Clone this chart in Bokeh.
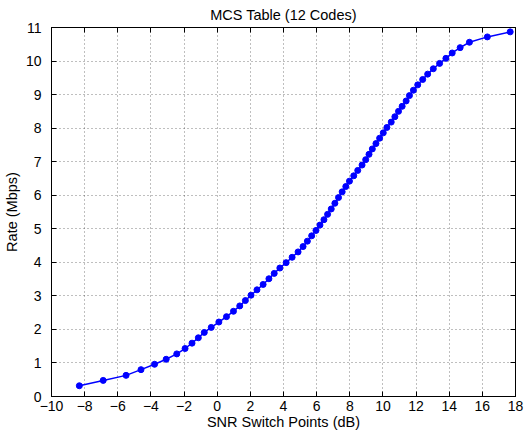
from bokeh.plotting import figure
from bokeh.models import Range1d, FixedTicker, LinearAxis, ColumnDataSource
from bokeh.embed import file_html
from bokeh.resources import INLINE

# SNR switch point (dB) for each rate step
snr_db = [
    -8.32, -6.88, -5.50, -4.60, -3.78, -3.08, -2.44, -1.94, -1.52, -1.14,
    -0.78, -0.36, 0.10, 0.56, 0.98, 1.36, 1.70, 2.04, 2.40, 2.77,
    3.12, 3.44, 3.78, 4.16, 4.52, 4.88, 5.18, 5.44, 5.70, 5.96,
    6.20, 6.44, 6.66, 6.88, 7.10, 7.32, 7.54, 7.76, 7.98, 8.24,
    8.48, 8.74, 8.96, 9.16, 9.36, 9.58, 9.80, 10.02, 10.24, 10.50,
    10.72, 10.94, 11.16, 11.40, 11.60, 11.84, 12.10, 12.40, 12.70, 13.04,
    13.42, 13.80, 14.18, 14.66, 15.22, 16.30, 17.68,
]
# Rate (Mbps) reached at each switch point
rate_mbps = [
    0.32, 0.48, 0.63, 0.80, 0.96, 1.11, 1.27, 1.43, 1.59, 1.75,
    1.91, 2.06, 2.22, 2.38, 2.54, 2.70, 2.86, 3.02, 3.18, 3.34,
    3.51, 3.67, 3.83, 3.99, 4.15, 4.31, 4.47, 4.63, 4.79, 4.95,
    5.11, 5.27, 5.43, 5.59, 5.76, 5.93, 6.10, 6.26, 6.42, 6.58,
    6.74, 6.90, 7.06, 7.22, 7.38, 7.54, 7.70, 7.86, 8.02, 8.18,
    8.34, 8.50, 8.65, 8.81, 8.97, 9.13, 9.29, 9.45, 9.61, 9.77,
    9.93, 10.08, 10.24, 10.40, 10.56, 10.72, 10.87,
]

x_ticks = [-10, -8, -6, -4, -2, 0, 2, 4, 6, 8, 10, 12, 14, 16, 18]
y_ticks = [0, 1, 2, 3, 4, 5, 6, 7, 8, 9, 10, 11]
x_tick_labels = {t: str(t).replace("-", "\u2212") for t in x_ticks}

FONT = "Liberation Sans"

p = figure(
    width=524, height=434,
    output_backend="svg", toolbar_location=None,
    x_range=Range1d(-10, 18), y_range=Range1d(0, 11),
    min_border_left=49, min_border_right=9,
    min_border_top=27, min_border_bottom=38,
    title="MCS Table (12 Codes)",
)
p.background_fill_color = "white"
p.border_fill_color = "white"
p.outline_line_color = "black"
p.outline_line_width = 1

p.title.align = "center"
p.title.vertical_align = "top"
p.title.text_font = FONT
p.title.text_font_size = "14.5px"
p.title.text_font_style = "normal"
p.title.text_color = "black"
p.title.standoff = 6

bottom_axis = p.below[0]
left_axis = p.left[0]

# Tick-only axes on the top and right edges of the box
top_axis = LinearAxis()
right_axis = LinearAxis()
p.add_layout(top_axis, "above")
p.add_layout(right_axis, "right")

for ax in (bottom_axis, top_axis):
    ax.ticker = FixedTicker(ticks=x_ticks)
for ax in (left_axis, right_axis):
    ax.ticker = FixedTicker(ticks=y_ticks)

for ax in (bottom_axis, left_axis, top_axis, right_axis):
    ax.major_tick_in = 5
    ax.major_tick_out = 0
    ax.minor_tick_line_color = None
    ax.axis_line_color = "black"
    ax.major_tick_line_color = "black"
    ax.major_label_text_font = FONT
    ax.major_label_text_font_size = "14px"
    ax.major_label_text_color = "black"
    ax.axis_label_text_font = FONT
    ax.axis_label_text_font_size = "14.5px"
    ax.axis_label_text_font_style = "normal"
    ax.axis_label_text_color = "black"

top_axis.major_label_overrides = {t: "" for t in x_ticks}
right_axis.major_label_overrides = {t: "" for t in y_ticks}
top_axis.major_label_standoff = 0
right_axis.major_label_standoff = 0

bottom_axis.major_label_overrides = x_tick_labels
bottom_axis.major_label_standoff = 4
bottom_axis.axis_label = "SNR Switch Points (dB)"
bottom_axis.axis_label_standoff = 0
left_axis.major_label_standoff = 10
left_axis.axis_label = "Rate (Mbps)"
left_axis.axis_label_standoff = 3

for g in (p.xgrid[0], p.ygrid[0]):
    g.grid_line_color = "black"
    g.grid_line_alpha = 0.5
    g.grid_line_dash = "1 3"
    g.grid_line_width = 1
p.xgrid[0].ticker = FixedTicker(ticks=x_ticks)
p.ygrid[0].ticker = FixedTicker(ticks=y_ticks)

src = ColumnDataSource(data=dict(snr=snr_db, rate=rate_mbps))
p.line("snr", "rate", source=src, line_color="#0000ff", line_width=1.5)
p.scatter("snr", "rate", source=src, size=6, fill_color="#0000ff", line_color="#0000ff")

open("out.html", "w").write(file_html(p, INLINE))
